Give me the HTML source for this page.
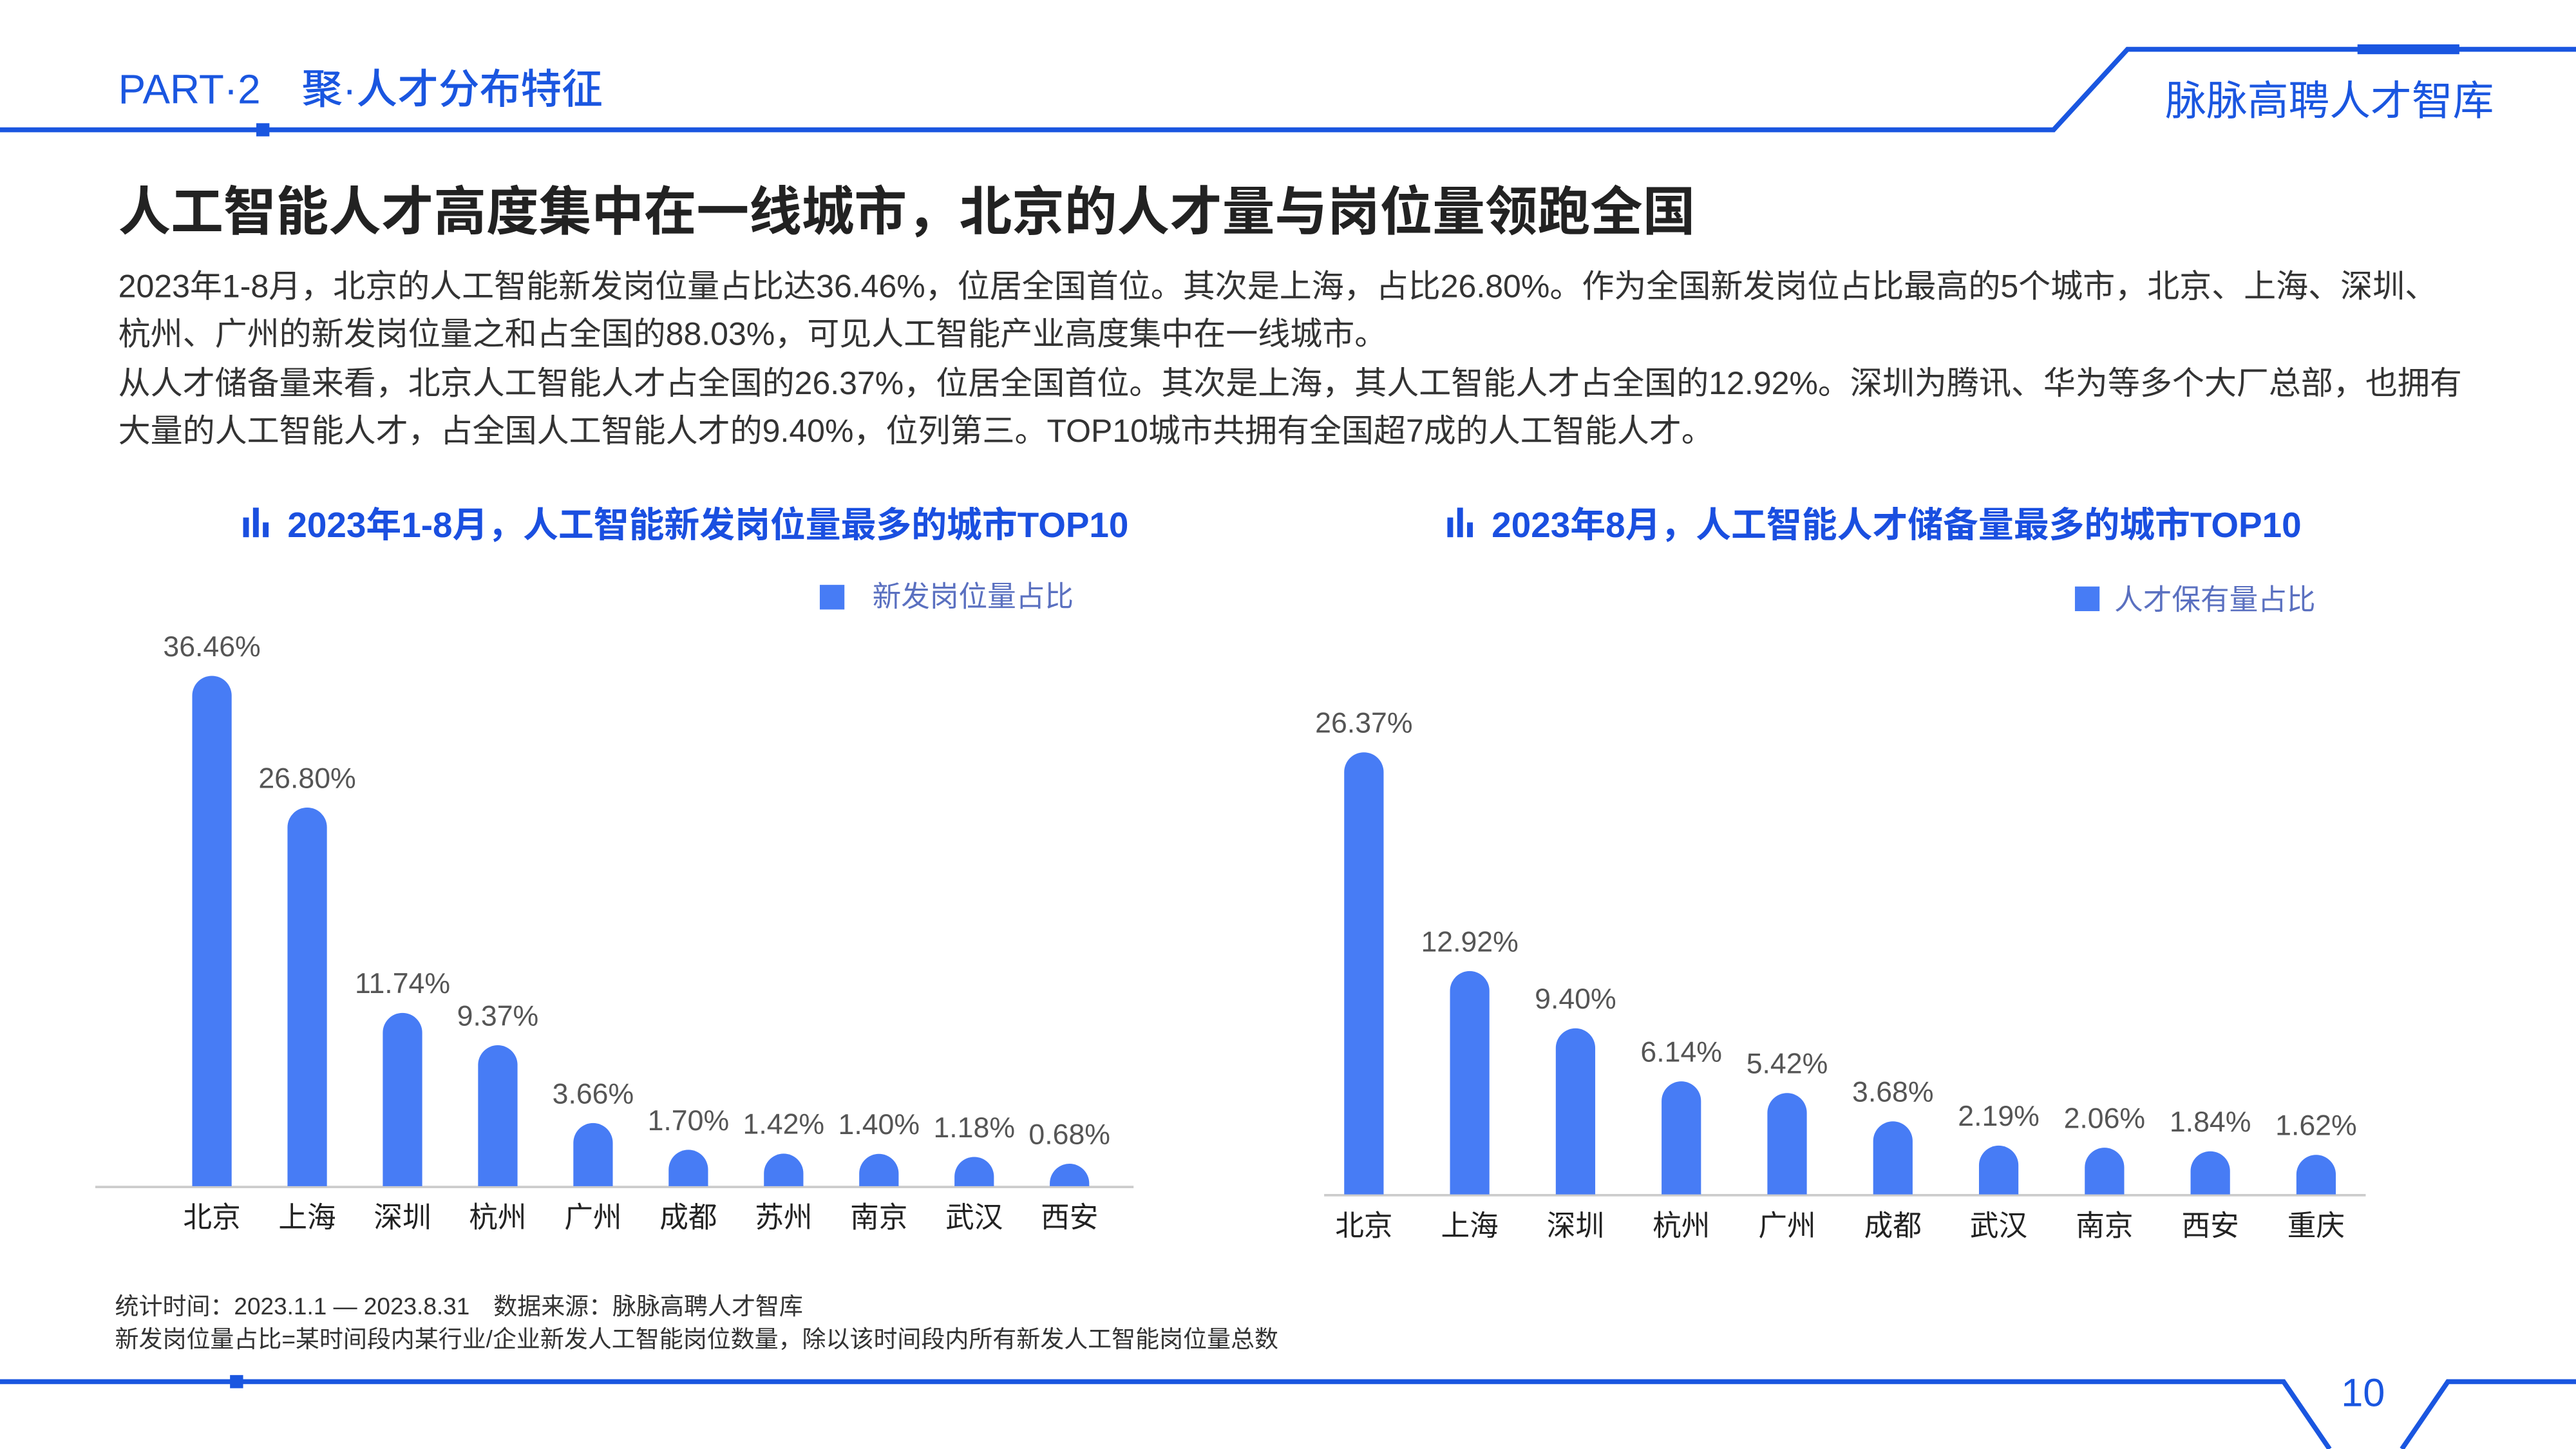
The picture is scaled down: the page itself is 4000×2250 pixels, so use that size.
<!DOCTYPE html>
<html><head><meta charset="utf-8">
<style>
html,body{margin:0;padding:0;background:#fff;}
svg{display:block;font-family:"Liberation Sans","Noto Sans CJK SC",sans-serif;}
</style></head>
<body>
<svg id="page" width="4000" height="2250" viewBox="0 0 1568 882" xmlns="http://www.w3.org/2000/svg">
<g>
  <polyline points="0,79 1250,79 1295,30 1568,30" fill="none" stroke="#1a56e0" stroke-width="3"/>
  <rect x="156" y="75" width="8" height="8" fill="#1a56e0"/>
  <rect x="1435" y="27" width="62" height="6" fill="#1a56e0"/>
  <text x="72" y="63" font-size="25" fill="#1a56e0" font-weight="500">PART·2　聚·人才分布特征</text>
  <text x="1318" y="70" font-size="25" fill="#1a56e0">脉脉高聘人才智库</text>
</g>
<text x="72" y="140" font-size="32" font-weight="bold" fill="#222">人工智能人才高度集中在一线城市，北京的人才量与岗位量领跑全国</text>
<g font-size="19.6" fill="#333">
  <text x="72" y="181">2023年1-8月，北京的人工智能新发岗位量占比达36.46%，位居全国首位。其次是上海，占比26.80%。作为全国新发岗位占比最高的5个城市，北京、上海、深圳、</text>
  <text x="72" y="210">杭州、广州的新发岗位量之和占全国的88.03%，可见人工智能产业高度集中在一线城市。</text>
  <text x="72" y="240">从人才储备量来看，北京人工智能人才占全国的26.37%，位居全国首位。其次是上海，其人工智能人才占全国的12.92%。深圳为腾讯、华为等多个大厂总部，也拥有</text>
  <text x="72" y="269">大量的人工智能人才，占全国人工智能人才的9.40%，位列第三。TOP10城市共拥有全国超7成的人工智能人才。</text>
</g>
<g>
  <rect x="148" y="315" width="3.5" height="12" fill="#1a4fe0"/><rect x="154" y="309" width="3.5" height="18" fill="#1a4fe0"/><rect x="160" y="318" width="3.5" height="9" fill="#1a4fe0"/>
  <text x="175" y="327" font-size="21.5" font-weight="bold" fill="#1a4fe0">2023年1-8月，人工智能新发岗位量最多的城市TOP10</text>
</g>
<g>
  <rect x="499" y="356" width="15" height="15" fill="#477cf5"/>
  <text x="531" y="369" font-size="17.5" fill="#5a70c0">新发岗位量占比</text>
</g>
<g>
  <rect x="881" y="315" width="3.5" height="12" fill="#1a4fe0"/><rect x="887" y="309" width="3.5" height="18" fill="#1a4fe0"/><rect x="893" y="318" width="3.5" height="9" fill="#1a4fe0"/>
  <text x="908" y="327" font-size="21.5" font-weight="bold" fill="#1a4fe0">2023年8月，人工智能人才储备量最多的城市TOP10</text>
</g>
<g>
  <rect x="1263" y="357" width="15" height="15" fill="#477cf5"/>
  <text x="1287" y="371" font-size="17.5" fill="#5a70c0">人才保有量占比</text>
</g>
<line x1="58" y1="722.5" x2="690" y2="722.5" stroke="#ccc" stroke-width="1.5"/>
<line x1="806" y1="727.5" x2="1440" y2="727.5" stroke="#ccc" stroke-width="1.5"/>
<g id="leftBars"></g>
<g id="rightBars"></g>
<g font-size="14.5" fill="#333">
  <text x="70" y="800">统计时间：2023.1.1 — 2023.8.31　数据来源：脉脉高聘人才智库</text>
  <text x="70" y="820">新发岗位量占比=某时间段内某行业/企业新发人工智能岗位数量，除以该时间段内所有新发人工智能岗位量总数</text>
</g>
<g>
  <polyline points="0,841 1390,841 1418,882" fill="none" stroke="#1a56e0" stroke-width="3"/>
  <polyline points="1462,882 1490,841 1568,841" fill="none" stroke="#1a56e0" stroke-width="3"/>
  <rect x="140" y="837" width="8" height="8" fill="#1a56e0"/>
  <text x="1425" y="856" font-size="24" fill="#1a56e0">10</text>
</g>
</svg>
<script>
const leftCities = ["北京","上海","深圳","杭州","广州","成都","苏州","南京","武汉","西安"];
const leftValues = [36.46,26.80,11.74,9.37,3.66,1.70,1.42,1.40,1.18,0.68];
const rightCities = ["北京","上海","深圳","杭州","广州","成都","武汉","南京","西安","重庆"];
const rightValues = [26.37,12.92,9.40,6.14,5.42,3.68,2.19,2.06,1.84,1.62];

const NS = "http://www.w3.org/2000/svg";
function drawChart(gId, cities, values, x0, x1, base, scale, barW) {
  const g = document.getElementById(gId);
  const step = (x1 - x0) / cities.length;
  const yOf = v => base - (scale * v + 8);
  cities.forEach((c, i) => {
    const cx = x0 + step * (i + 0.5);
    const top = yOf(values[i]);
    const r = barW / 2;
    const p = document.createElementNS(NS, "path");
    p.setAttribute("d", `M${cx - r},${base} L${cx - r},${top + r} A${r},${r} 0 0 1 ${cx + r},${top + r} L${cx + r},${base} Z`);
    p.setAttribute("fill", "#477cf5");
    
    
    g.appendChild(p);
    const t = document.createElementNS(NS, "text");
    t.setAttribute("x", cx); t.setAttribute("y", top - 12);
    t.setAttribute("text-anchor", "middle"); t.setAttribute("font-size", "17.5"); t.setAttribute("fill", "#555");
    t.textContent = values[i].toFixed(2) + "%";
    
    
    g.appendChild(t);
    const l = document.createElementNS(NS, "text");
    l.setAttribute("x", cx); l.setAttribute("y", base + 25);
    l.setAttribute("text-anchor", "middle"); l.setAttribute("font-size", "17.5"); l.setAttribute("fill", "#222");
    l.textContent = c;
    
    
    g.appendChild(l);
  });
}
drawChart("leftBars", leftCities, leftValues, 100, 680, 722, 8.3, 24);
drawChart("rightBars", rightCities, rightValues, 798, 1442, 727, 9.9, 24);
</script>
</body></html>
